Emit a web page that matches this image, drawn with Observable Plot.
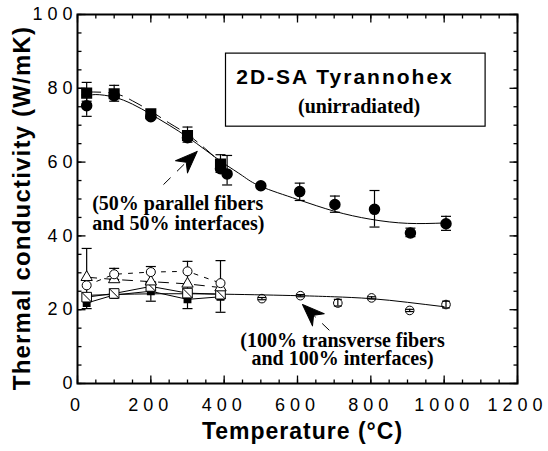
<!DOCTYPE html>
<html>
<head>
<meta charset="utf-8">
<script src="https://cdn.jsdelivr.net/npm/d3@7"></script>
<script src="https://cdn.jsdelivr.net/npm/@observablehq/plot@0.6"></script>
<style>
html, body { margin: 0; padding: 0; background: #fff; }
#chart svg { display: block; }
</style>
</head>
<body>
<div id="chart"></div>
<script>
// ---------- axes ----------
const xTickLabels = [0, 200, 400, 600, 800, 1000, 1200];
const yTickLabels = [0, 20, 40, 60, 80, 100];
const xMinorTicks = d3.range(0, 1201, 50);
const yMinorTicks = d3.range(0, 101, 5);
const xTitle = "Temperature (°C)";
const yTitle = "Thermal conductivity (W/mK)";

// ---------- 50% parallel fibers (upper group) ----------
const parSqT  = [25, 100, 200, 300, 390];
const parSqK  = [78.7, 78.5, 73.1, 67.2, 59.5];
const parSqLo = [76.5, 76.5, NaN, 65.4, 57.2];
const parSqHi = [81.6, 80.8, NaN, 69.5, 62.0];

const parCiT  = [25, 100, 200, 300, 390, 408, 500, 606, 702, 810, 908, 1005];
const parCiK  = [75.3, 78.0, 72.3, 66.6, 58.2, 56.8, 53.6, 52.0, 48.5, 47.2, 40.8, 43.3];
const parCiLo = [72.4, NaN, NaN, NaN, NaN, 53.8, NaN, 49.6, 46.4, 42.4, 39.8, 41.5];
const parCiHi = [78.2, NaN, NaN, NaN, NaN, 61.8, NaN, 54.3, 50.8, 52.3, 42.1, 45.3];

const fitParT = [25, 50, 100, 150, 200, 250, 300, 350, 400, 450, 500, 600, 700, 800, 900, 1000];
const fitParK = [77.8, 78.3, 77.6, 75.7, 73.0, 70.0, 66.8, 63.2, 59.6, 56.3, 53.4, 49.9, 46.7, 44.5, 43.4, 43.5];
const fitSqT  = [25, 100, 150, 200, 250, 300, 350, 390];
const fitSqK  = [79.0, 78.6, 76.6, 73.8, 70.6, 67.5, 63.5, 60.0];

// ---------- 100% transverse fibers (lower group) ----------
const lowT     = [25, 100, 200, 300, 390];
const lowCiK   = [26.6, 29.6, 30.2, 30.4, 27.2];   // open circles
const lowTrK   = [28.8, 28.2, 27.6, 27.0, 26.0];   // open triangles
const lowSqK   = [23.4, 24.4, 26.3, 24.5, 24.2];   // open squares (slashed)
const lowFsK   = [21.8, 24.0, 25.0, 22.8, 23.5];   // small filled squares
const lowErrLo = [20.3, 28.2, 22.3, 20.3, 19.3];
const lowErrHi = [36.6, 31.2, 31.7, 33.1, 33.3];

const hiT  = [503, 608, 710, 802, 906, 1005];
const hiK  = [23.0, 23.8, 21.8, 23.2, 19.8, 21.4];
const hiLo = [22.7, 23.5, 21.0, 22.9, 19.5, 20.5];
const hiHi = [23.3, 24.1, 22.8, 23.5, 20.1, 22.3];

const fitTrT = [25, 200, 400, 600, 700, 800, 900, 1000];
const fitTrK = [23.9, 24.3, 24.2, 23.8, 23.5, 23.0, 22.0, 20.8];

// ---------- annotations ----------
const boxX = [405, 1113];
const boxY = [69.6, 89.4];
const labelTexts = ["2D-SA Tyrannohex", "(unirradiated)", "(50% parallel fibers", "and 50% interfaces)", "(100% transverse fibers", "and 100% interfaces)"];
const labelX = [729.5, 768, 40, 40, 722.7, 722.7];
const labelY = [81.2, 73.4, 46.9, 41.5, 10.0, 4.9];
const labelAnchor = ["middle", "middle", "start", "start", "middle", "middle"];
const labelSerif = [false, true, true, true, true, true];
const arrowX1 = [234.5, 687];
const arrowY1 = [53.9, 14.4];
const arrowX2 = [326.5, 613.6];
const arrowY2 = [62.9, 21.4];

// ---------- tables ----------
const zipT = (t, cols) => t.map((v, i) => {
  const o = {t: v};
  for (const k in cols) o[k] = cols[k][i];
  return o;
});
const parSq = zipT(parSqT, {k: parSqK, lo: parSqLo, hi: parSqHi});
const parCi = zipT(parCiT, {k: parCiK, lo: parCiLo, hi: parCiHi});
const fitPar = zipT(fitParT, {k: fitParK});
const fitSq = zipT(fitSqT, {k: fitSqK});
const low = zipT(lowT, {ci: lowCiK, tr: lowTrK, sq: lowSqK, fs: lowFsK, lo: lowErrLo, hi: lowErrHi});
const hi = zipT(hiT, {k: hiK, lo: hiLo, hi: hiHi});
const fitTr = zipT(fitTrT, {k: fitTrK});
const labels = labelTexts.map((s, i) => ({s, x: labelX[i], y: labelY[i], a: labelAnchor[i], serif: labelSerif[i]}));
const arrows = arrowX1.map((v, i) => ({x1: v, y1: arrowY1[i], x2: arrowX2[i], y2: arrowY2[i]}));
const box = [{x1: boxX[0], x2: boxX[1], y1: boxY[0], y2: boxY[1]}];

// ---------- layout ----------
const W = 548, H = 451, ML = 77, MR = 31, MT = 14, MB = 68;
const XD = [0, 1200], YD = [0, 100];
const kx = (W - ML - MR) / (XD[1] - XD[0]);   // px per data unit
const ky = (H - MT - MB) / (YD[1] - YD[0]);
const arrowAngle = d => Math.atan2((d.x2 - d.x1) * kx, (d.y2 - d.y1) * ky) * 180 / Math.PI;

// ---------- custom symbols (pixel space) ----------
const sym = f => ({draw(c, size) { f(c, Math.sqrt(size / Math.PI)); }});
const tickUp = sym((c, r) => { c.moveTo(0, 0); c.lineTo(0, -r); });
const tickDown = sym((c, r) => { c.moveTo(0, 0); c.lineTo(0, r); });
const tickRight = sym((c, r) => { c.moveTo(0, 0); c.lineTo(r, 0); });
const tickLeft = sym((c, r) => { c.moveTo(0, 0); c.lineTo(-r, 0); });
const capSym = sym((c, r) => { c.moveTo(-r, 0); c.lineTo(r, 0); });
const slashSq = sym((c, r) => { c.rect(-r, -r, 2 * r, 2 * r); c.moveTo(-r, -r); c.lineTo(r, r); });
const stealth = {draw(c, l, r) {
  c.moveTo(0, -l); c.lineTo(-r, 0); c.lineTo(0, -l * 0.3); c.lineTo(r, 0); c.closePath();
}};

const SANS = "'Liberation Sans', Arial, Helvetica, sans-serif";
const SERIF = "'Liberation Serif', 'Times New Roman', serif";

const errMarks = (data, x, lo, hi, capR) => [
  Plot.ruleX(data, {x, y1: lo, y2: hi, stroke: "black", strokeWidth: 1.2}),
  Plot.dot(data, {x, y: lo, symbol: capSym, r: capR, stroke: "black", fill: "none", strokeWidth: 1.2}),
  Plot.dot(data, {x, y: hi, symbol: capSym, r: capR, stroke: "black", fill: "none", strokeWidth: 1.2})
];

// arrow heads (filled); fall back to a plain arrow if custom vector shapes are unavailable
let headMark;
try {
  headMark = Plot.vector(arrows, {x: "x2", y: "y2", rotate: arrowAngle, length: 22, r: 8.5, anchor: "end",
    shape: stealth, fill: "black", stroke: "black", strokeWidth: 1});
} catch (e) {
  headMark = Plot.arrow(arrows, {x1: "x1", y1: "y1", x2: "x2", y2: "y2", stroke: "black", strokeWidth: 2.5, headLength: 22, headAngle: 45});
}

const plot = Plot.plot({
  width: W,
  height: H,
  marginLeft: ML,
  marginRight: MR,
  marginTop: MT,
  marginBottom: MB,
  style: {fontFamily: SANS, fontSize: "18px", color: "black", background: "white", overflow: "visible"},
  x: {domain: XD, ticks: xTickLabels, tickFormat: d => String(d), tickSize: 0, tickPadding: 15, label: null},
  y: {domain: YD, ticks: yTickLabels, tickFormat: d => String(d), tickSize: 0, tickPadding: 0, label: null},
  marks: [
    // legend box
    Plot.rect(box, {x1: "x1", x2: "x2", y1: "y1", y2: "y2", fill: "white", stroke: "black", strokeWidth: 1.2}),

    // fitted curves
    Plot.line(fitPar, {x: "t", y: "k", curve: "natural", stroke: "black", strokeWidth: 1}),
    Plot.line(fitSq, {x: "t", y: "k", curve: "natural", stroke: "black", strokeWidth: 1, strokeDasharray: "14,8"}),
    Plot.line(fitTr, {x: "t", y: "k", curve: "natural", stroke: "black", strokeWidth: 1}),

    // lower group connecting lines
    Plot.line(low, {x: "t", y: "ci", stroke: "black", strokeWidth: 1, strokeDasharray: "4,7"}),
    Plot.line(low, {x: "t", y: "tr", stroke: "black", strokeWidth: 1, strokeDasharray: "10,8"}),
    Plot.line(low, {x: "t", y: "sq", stroke: "black", strokeWidth: 1}),
    Plot.line(low, {x: "t", y: "fs", stroke: "black", strokeWidth: 1}),

    // error bars
    ...errMarks(parSq, "t", "lo", "hi", 5),
    ...errMarks(parCi, "t", "lo", "hi", 5),
    ...errMarks(low, "t", "lo", "hi", 5),
    ...errMarks(hi, "t", "lo", "hi", 4),

    // markers: upper group
    Plot.dot(parCi, {x: "t", y: "k", r: 5, fill: "black", stroke: "black"}),
    Plot.dot(parSq, {x: "t", y: "k", symbol: "square", r: 5.4, fill: "black", stroke: "black"}),

    // markers: lower group
    Plot.dot(low, {x: "t", y: "fs", symbol: "square", r: 3.6, fill: "black", stroke: "black"}),
    Plot.dot(low, {x: "t", y: "sq", symbol: slashSq, r: 4.8, fill: "white", stroke: "black", strokeWidth: 1}),
    Plot.dot(low, {x: "t", y: "tr", symbol: "triangle", r: 4.2, fill: "white", stroke: "black", strokeWidth: 1}),
    Plot.dot(low, {x: "t", y: "ci", r: 4.5, fill: "white", stroke: "black", strokeWidth: 1}),
    Plot.dot(hi, {x: "t", y: "k", r: 4.3, fill: "none", stroke: "black", strokeWidth: 1}),

    // arrows: dashed thin shaft + filled head
    Plot.link(arrows, {x1: "x1", y1: "y1", x2: "x2", y2: "y2", stroke: "black", strokeWidth: 1, strokeDasharray: "10,9"}),
    headMark,

    // annotation texts
    Plot.text(labels.filter(d => !d.serif), {x: "x", y: "y", text: "s", textAnchor: "middle", lineAnchor: "bottom", fontFamily: SANS, fontWeight: "bold", fontSize: 21}),
    Plot.text(labels.filter(d => d.serif && d.a === "middle"), {x: "x", y: "y", text: "s", textAnchor: "middle", lineAnchor: "bottom", fontFamily: SERIF, fontWeight: "bold", fontSize: 20}),
    Plot.text(labels.filter(d => d.serif && d.a === "start"), {x: "x", y: "y", text: "s", textAnchor: "start", lineAnchor: "bottom", fontFamily: SERIF, fontWeight: "bold", fontSize: 20}),

    // axis titles
    Plot.text([xTitle], {frameAnchor: "bottom", textAnchor: "middle", lineAnchor: "bottom", dx: 5, dy: 55, fontFamily: SANS, fontWeight: "bold", fontSize: 23}),
    Plot.text([yTitle], {frameAnchor: "left", textAnchor: "middle", lineAnchor: "middle", rotate: -90, dx: -55, dy: 9, fontFamily: SANS, fontWeight: "bold", fontSize: 24}),

    // frame and inward ticks
    Plot.frame({stroke: "black", strokeWidth: 2}),
    Plot.dot(xMinorTicks, {x: d => d, y: 0, symbol: tickUp, r: 4, stroke: "black", fill: "none", strokeWidth: 1.3}),
    Plot.dot(xTickLabels, {x: d => d, y: 0, symbol: tickUp, r: 8, stroke: "black", fill: "none", strokeWidth: 1.3}),
    Plot.dot(xMinorTicks, {x: d => d, y: 100, symbol: tickDown, r: 4, stroke: "black", fill: "none", strokeWidth: 1.3}),
    Plot.dot(xTickLabels, {x: d => d, y: 100, symbol: tickDown, r: 8, stroke: "black", fill: "none", strokeWidth: 1.3}),
    Plot.dot(yMinorTicks, {y: d => d, x: 0, symbol: tickRight, r: 4, stroke: "black", fill: "none", strokeWidth: 1.3}),
    Plot.dot(yTickLabels, {y: d => d, x: 0, symbol: tickRight, r: 8, stroke: "black", fill: "none", strokeWidth: 1.3}),
    Plot.dot(yMinorTicks, {y: d => d, x: 1200, symbol: tickLeft, r: 4, stroke: "black", fill: "none", strokeWidth: 1.3}),
    Plot.dot(yTickLabels, {y: d => d, x: 1200, symbol: tickLeft, r: 8, stroke: "black", fill: "none", strokeWidth: 1.3})
  ]
});

// styling of text (letter spacing like the original)
const s = d3.select(plot);
s.selectAll('g[aria-label*="axis"] text').style("letter-spacing", "5px").style("font-size", "18px").style("font-family", SANS);
s.selectAll("text").filter(function () { return this.textContent === "2D-SA Tyrannohex"; }).style("letter-spacing", "2px");
s.selectAll("text").filter(function () { return this.textContent === xTitle; }).style("letter-spacing", "1px");
s.selectAll("text").filter(function () { return this.textContent === yTitle; }).style("letter-spacing", "1.2px");

document.getElementById("chart").appendChild(plot);
</script>
</body>
</html>
